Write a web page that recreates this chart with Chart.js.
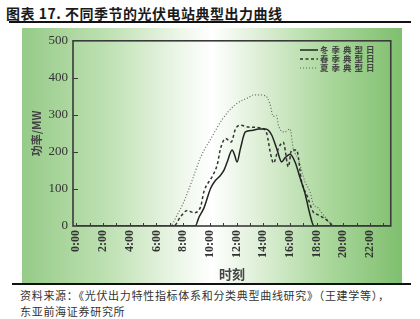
<!DOCTYPE html>
<html>
<head>
<meta charset="utf-8">
<script src="https://cdn.jsdelivr.net/npm/chart.js@4"></script>
<style>
  html, body { margin: 0; padding: 0; background: #fff; }
  body { width: 420px; height: 319px; position: relative; overflow: hidden; font-family: "Noto Sans CJK SC", sans-serif; }
  #title { position: absolute; left: 6px; top: 3px; font-size: 14px; font-weight: bold; color: #1a1a1a; letter-spacing: 0.5px; white-space: nowrap; }
  #rule-top { position: absolute; left: 9px; top: 21px; width: 402px; height: 2px; background: #111; }
  #panel { position: absolute; left: 22px; top: 28px; width: 380px; height: 255px;
    background: linear-gradient(to right, #96cb88 0%, #bde0b1 22%, #eef7ea 42%, #ffffff 50%, #e4f2de 60%, #acd89e 80%, #7fbf6e 100%); }
  #rule-bottom { position: absolute; left: 12px; top: 283px; width: 399px; height: 2px; background: #111; }
  #source { position: absolute; left: 20px; top: 287px; font-size: 11px; line-height: 16px; color: #333; letter-spacing: 0.7px; white-space: nowrap; }
  #legend { position: absolute; left: 300px; top: 45px; font-size: 8.5px; font-weight: bold; color: #444; letter-spacing: 3px; }
  #legend div { display: flex; align-items: center; height: 9px; line-height: 9px; white-space: nowrap; }
  #legend svg { margin-right: 2px; flex: none; }
</style>
</head>
<body>
<div id="title">图表 17. 不同季节的光伏电站典型出力曲线</div>
<div id="rule-top"></div>
<div id="panel"><canvas id="curveChart" width="380" height="255"></canvas></div>
<div id="legend">
  <div><svg width="18" height="4"><line x1="0" y1="2" x2="18" y2="2" stroke="#222" stroke-width="1.5"/></svg>冬季典型日</div>
  <div><svg width="18" height="4"><line x1="0" y1="2" x2="18" y2="2" stroke="#333" stroke-width="1.5" stroke-dasharray="3,2.5"/></svg>春季典型日</div>
  <div><svg width="18" height="4"><line x1="0" y1="2" x2="18" y2="2" stroke="#666" stroke-width="1.2" stroke-dasharray="1,2"/></svg>夏季典型日</div>
</div>
<div id="rule-bottom"></div>
<div id="source">资料来源：《光伏出力特性指标体系和分类典型曲线研究》（王建学等），<br>东亚前海证券研究所</div>

<script>
// Series (hour of day, MW)
const WINTER_HOURS = [0, 8.9, 9.2, 9.56, 10.06, 10.4, 10.7, 11.05, 11.3, 11.67, 11.85, 12.04, 12.29, 12.66, 13.15, 13.65, 14.15, 14.4, 14.64, 15.0, 15.38, 15.63, 16.0, 16.38, 16.75, 17.12, 17.5, 17.8, 23.5];
const WINTER_MW    = [0, 0,   25,  49,   102,   122,  133,  150,   173,  205,   192,   173,   209,   254,   258,   262,   262,   258,  245,   210,  173,   184,   194,  173,   131,   89,    31,   0,    0];

const SPRING_HOURS = [0, 7.3, 7.8, 8.32, 8.8, 9.3, 9.56, 10.18, 10.55, 10.8, 11.18, 11.6, 11.92, 12.29, 12.9, 13.9, 14.27, 14.52, 14.77, 15.14, 15.5, 15.88, 16.12, 16.5, 16.87, 17.3, 17.74, 18.0, 18.6, 18.98, 19.25, 23.5];
const SPRING_MW    = [0, 0,   25,  42,   36,  51,  93,   134,   165,   209,  236,   227,  262,   272,   267,  264,  249,   200,   170,   210,   226,  160,   205,   205,  120,   80,   38,    32,   20,   9,     0,     0];

const SUMMER_HOURS = [0, 7.0, 7.57, 8.07, 8.69, 9.3, 10.18, 10.93, 11.92, 12.9, 13.3, 13.65, 14.15, 14.5, 14.75, 15.0, 15.14, 15.63, 16.0, 16.25, 16.62, 17.12, 17.5, 17.74, 18.1, 18.48, 18.98, 19.3, 23.5];
const SUMMER_MW    = [0, 0,   31,   67,   125,  185, 242,   288,   328,   347,  354,  354,   352,   330,  296,   298,  271,   254,   262,  209,   182,   120,   93,   60,    49,   31,    9,     0,    0];

// Axis ticks
const HOUR_TICKS = [0, 1, 2, 3, 4, 5, 6, 7, 8, 9, 10, 11, 12, 13, 14, 15, 16, 17, 18, 19, 20, 21, 22, 23];
const HOUR_LABELS = ['0:00', '2:00', '4:00', '6:00', '8:00', '10:00', '12:00', '14:00', '16:00', '18:00', '20:00', '22:00'];
const MW_TICKS = [0, 100, 200, 300, 400, 500];

function toPoints(hours, values) {
    return hours.map((h, i) => ({ x: h, y: values[i] }));
}

// Inward tick marks and the box round the plot
const frameTicks = {
    id: 'frameTicks',
    afterDatasetsDraw(chart) {
        const { ctx, chartArea: a, scales: { x, y } } = chart;
        ctx.save();
        ctx.strokeStyle = '#3a3a3a';
        ctx.lineWidth = 1;
        ctx.beginPath();
        HOUR_TICKS.forEach(h => {
            const px = Math.round(x.getPixelForValue(h)) + 0.5;
            ctx.moveTo(px, a.bottom);
            ctx.lineTo(px, a.bottom - 3);
        });
        MW_TICKS.forEach(v => {
            if (v === 0 || v === 500) return;
            const py = Math.round(y.getPixelForValue(v)) + 0.5;
            ctx.moveTo(a.left, py);
            ctx.lineTo(a.left + 5, py);
        });
        ctx.stroke();
        ctx.lineWidth = 1.6;
        ctx.strokeRect(a.left, a.top, a.width, a.height);
        ctx.restore();
    }
};

const serif = 'Liberation Serif';

new Chart(document.getElementById('curveChart'), {
    type: 'line',
    data: {
        datasets: [
            {
                label: '冬季典型日',
                data: toPoints(WINTER_HOURS, WINTER_MW),
                borderColor: '#222',
                borderWidth: 1.5,
                pointRadius: 0,
                cubicInterpolationMode: 'monotone'
            },
            {
                label: '春季典型日',
                data: toPoints(SPRING_HOURS, SPRING_MW),
                borderColor: '#333',
                borderWidth: 1.5,
                borderDash: [3, 2.5],
                pointRadius: 0,
                cubicInterpolationMode: 'monotone'
            },
            {
                label: '夏季典型日',
                data: toPoints(SUMMER_HOURS, SUMMER_MW),
                borderColor: '#666',
                borderWidth: 1.2,
                borderDash: [1, 2],
                pointRadius: 0,
                cubicInterpolationMode: 'monotone'
            }
        ]
    },
    options: {
        responsive: false,
        animation: false,
        layout: { padding: { top: 10, right: 8, left: 0, bottom: 0 } },
        plugins: {
            legend: { display: false },
            tooltip: { enabled: false }
        },
        scales: {
            x: {
                type: 'linear',
                min: -0.25,
                max: 23.55,
                grid: { display: false, drawTicks: false },
                border: { display: false },
                afterBuildTicks: scale => { scale.ticks = HOUR_TICKS.map(v => ({ value: v })); },
                afterFit: scale => { scale.height = 57; },
                ticks: {
                    autoSkip: false,
                    minRotation: 90,
                    maxRotation: 90,
                    padding: 4,
                    color: '#333',
                    font: { family: serif, size: 12, weight: 'bold' },
                    callback: v => (v % 2 === 0 ? HOUR_LABELS[v / 2] : '')
                },
                title: {
                    display: true,
                    text: '时刻',
                    color: '#444',
                    padding: { top: 0, bottom: 1 },
                    font: { family: 'Noto Sans CJK SC', size: 13, weight: 'bold' }
                }
            },
            y: {
                min: 0,
                max: 500,
                grid: { display: false, drawTicks: false },
                border: { display: false },
                afterBuildTicks: scale => { scale.ticks = MW_TICKS.map(v => ({ value: v })); },
                afterFit: scale => { scale.width = 51; },
                ticks: {
                    padding: 5,
                    color: '#333',
                    font: { family: serif, size: 13 }
                },
                title: {
                    display: true,
                    text: '功率/MW',
                    color: '#444',
                    padding: { top: 8, bottom: 4 },
                    font: { family: 'Noto Sans CJK SC', size: 11, weight: 'bold' }
                }
            }
        }
    },
    plugins: [frameTicks]
});
</script>
</body>
</html>
